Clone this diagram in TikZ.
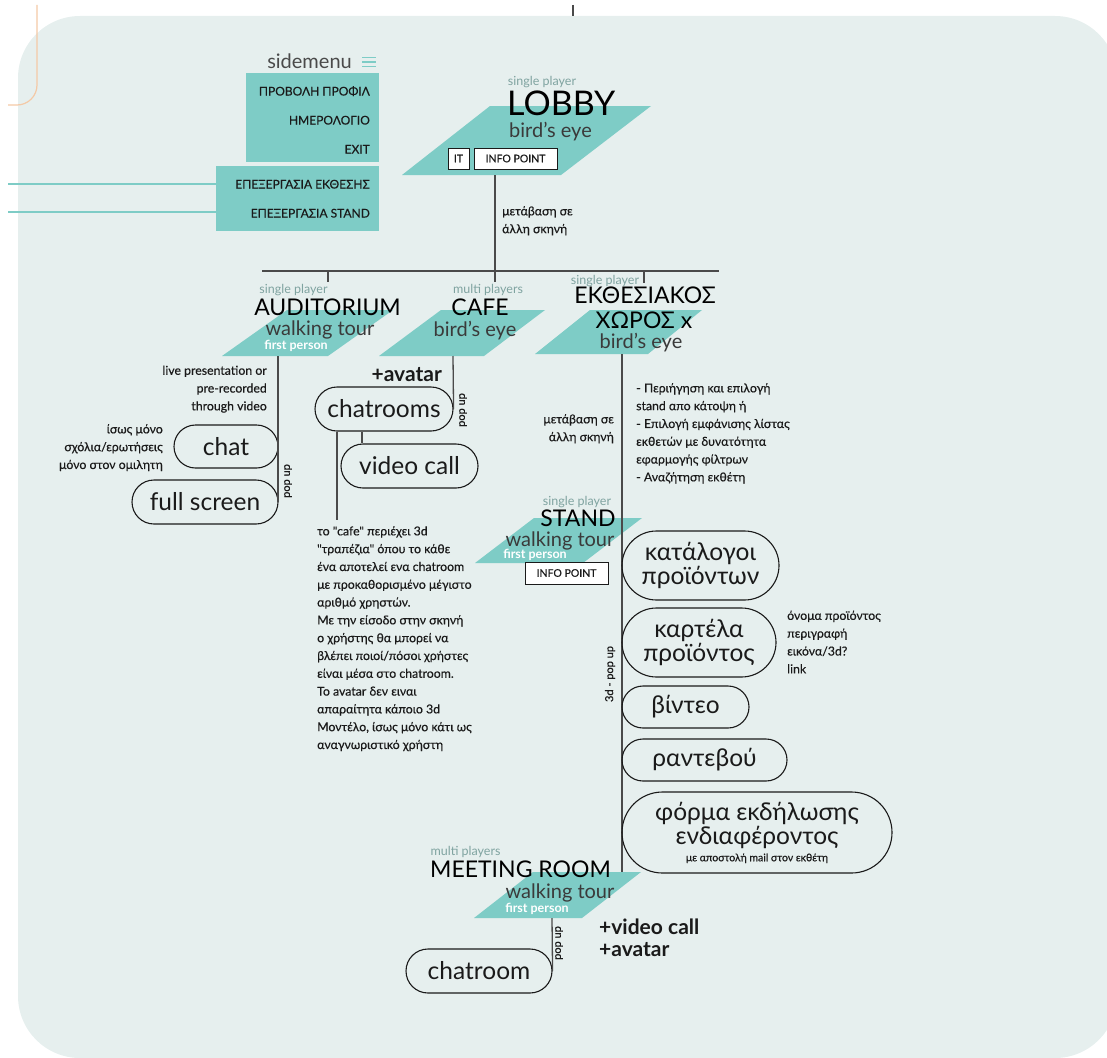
\documentclass[tikz,border=0pt]{standalone}
\usepackage{fontspec}
\setmainfont{Lato}
\newfontfamily\medf{Lato}[FakeBold=0.35]
\usetikzlibrary{calc}
\definecolor{bgc}{HTML}{E6EFEE}
\definecolor{tealc}{HTML}{7ECCC6}
\definecolor{linec}{HTML}{4A4A4A}
\definecolor{subc}{HTML}{7FA3A0}
\definecolor{orangec}{HTML}{F4C9A6}
\definecolor{darkc}{HTML}{1A1A1A}
\definecolor{modec}{HTML}{3A3A3A}
\begin{document}
\begin{tikzpicture}[x=1pt,y=-1pt,
  txt/.style={inner sep=0pt, text=darkc, font=\medf\fontsize{12.3}{17.8}\selectfont},
  sub/.style={inner sep=0pt, text=subc, font=\fontsize{12.5}{14}\selectfont, anchor=base},
  ttl/.style={inner sep=0pt, text=black, font=\fontsize{23}{25}\selectfont, anchor=base},
  mode/.style={inner sep=0pt, text=modec, font=\fontsize{20}{22}\selectfont, anchor=base},
  fp/.style={inner sep=0pt, text=white, font=\bfseries\fontsize{12.5}{14}\selectfont, anchor=base},
  menu/.style={inner sep=0pt, text=darkc, font=\medf\fontsize{12}{14}\selectfont, anchor=base east},
  ibox/.style={draw=darkc, fill=white, line width=0.9pt, inner sep=0pt, font=\medf\fontsize{10.5}{12}\selectfont, text=darkc},
  rot/.style={inner sep=0pt, rotate=90, text=darkc, font=\medf\fontsize{11}{12}\selectfont},
  plus/.style={inner sep=0pt, text=darkc, font=\bfseries\fontsize{21}{23}\selectfont},
  pill/.style={draw=darkc, line width=1.1pt, inner sep=0pt, text=darkc, align=center, font=\fontsize{24.5}{24}\selectfont},
  conn/.style={draw=linec, line width=1.3pt},
  plate/.style={fill=tealc},
  menubox/.style={fill=tealc, inner sep=0pt}
]
\useasboundingbox (0,0) rectangle (1107,1057);
\begin{scope}
  \clip (0,0) rectangle (1107,1057);
  \fill[bgc, rounded corners=62pt] (18,16) rectangle (1117,1058);
\end{scope}

% orange and top marks
\draw[orangec, line width=1.2pt, rounded corners=20pt] (37,5) -- (37,105) -- (8,105);
\coordinate (topA) at (573,5);
\coordinate (topB) at (573,16);
\draw[linec, line width=1.2pt] (topA) -- (topB);

% sidemenu
\node[inner sep=0pt, text=linec, font=\fontsize{20}{22}\selectfont, anchor=base east] (sm) at (352,68) {sidemenu};
\foreach \yy in {57.5,62,66.5}{\draw[tealc, line width=1.6pt] (362,\yy) -- (376,\yy);}
\node[menubox, minimum width=133pt, minimum height=89pt] (menuA) at (312.5,117.5) {};
\node[menubox, minimum width=163pt, minimum height=65pt] (menuB) at (297.5,198.5) {};
\node[menu] (m1) at (370,95.5) {ΠΡΟΒΟΛΗ ΠΡΟΦΙΛ};
\node[menu] (m2) at (370,124.5) {ΗΜΕΡΟΛΟΓΙΟ};
\node[menu] (m3) at (370,153.5) {EXIT};
\node[menu] (m4) at (370,188.5) {ΕΠΕΞΕΡΓΑΣΙΑ ΕΚΘΕΣΗΣ};
\node[menu] (m5) at (370,217.5) {ΕΠΕΞΕΡΓΑΣΙΑ STAND};
\coordinate (ed1) at (8,184);
\coordinate (ed2) at (8,212);
\draw[tealc, line width=1.2pt] (ed1) -- (ed1 -| menuB.west);
\draw[tealc, line width=1.2pt] (ed2) -- (ed2 -| menuB.west);

% plates
\fill[plate] (490,106) -- (651,106) -- (561,175) -- (402,175) -- cycle;
\fill[plate] (287,310) -- (393,310) -- (328,356) -- (222,356) -- cycle;
\fill[plate] (441,310) -- (545,310) -- (484,356) -- (379,356) -- cycle;
\fill[plate] (590,310) -- (702,310) -- (648,354) -- (535,354) -- cycle;
\fill[plate] (534,518) -- (642,518) -- (583,563) -- (475,563) -- cycle;
\fill[plate] (533,872) -- (641,872) -- (582,918) -- (474,918) -- cycle;

% connectors (hub)
\coordinate (lobbyB) at (495,175);
\coordinate (hubC) at (495,282);
\coordinate (hubL) at (262,271);
\coordinate (hubR) at (719,271);
\coordinate (tAudA) at (328,271);
\coordinate (tAudB) at (328,282);
\coordinate (tEkA) at (644,271);
\coordinate (tEkB) at (644,283);
\draw[conn] (lobbyB) -- (hubC);
\draw[conn] (hubL) -- (hubR);
\draw[conn] (tAudA) -- (tAudB);
\draw[conn] (tEkA) -- (tEkB);

% LOBBY
\node[sub] (lobbySub) at (542,85.5) {single player};
\node[ttl, font=\fontsize{34}{36}\selectfont, anchor=base west] (lobbyT) at (507,115.5) {LOBBY};
\node[mode, anchor=base west] (lobbyM) at (509,137) {bird’s eye};
\node[ibox, minimum width=21pt, minimum height=21pt] (it) at (458.5,158.5) {IT};
\node[ibox, minimum width=83pt, minimum height=21pt] (info1) at (515.5,158.5) {INFO POINT};
\node[txt, anchor=north west, align=left] (lobbyGo) at (502,206) {μετάβαση σε\\άλλη σκηνή};

% AUDITORIUM
\node[sub] (audSub) at (293.5,293) {single player};
\node[ttl] (audT) at (327.5,315) {AUDITORIUM};
\node[mode] (audM) at (320,335) {walking tour};
\node[fp] (audF) at (296,349) {first person};
\coordinate (audB) at (278,356);
\node[txt, anchor=north east, align=right] (live) at (267,365.5) {live presentation or\\pre-recorded\\through video};
\node[txt, anchor=north east, align=right] (isos) at (163,424) {ίσως μόνο\\σχόλια/ερωτήσεις\\μόνο στον ομιλητη};
\node[pill, minimum width=104pt, minimum height=43pt, rounded corners=21.5pt] (chat) at (226,446.5) {chat};
\node[pill, minimum width=146pt, minimum height=44pt, rounded corners=22pt] (full) at (205,502) {full screen};
\draw[conn] (audB) -- (audB |- full.east);
\node[rot] (pop1) at (288,481) {pop up};

% CAFE
\node[sub] (cafeSub) at (488,293) {multi players};
\node[ttl] (cafeT) at (480,315) {CAFE};
\node[mode] (cafeM) at (475,336) {bird’s eye};
\coordinate (cafeB) at (453,356);
\node[plus, anchor=base east] (av1) at (442,381) {+avatar};
\node[pill, minimum width=138pt, minimum height=44pt, rounded corners=22pt] (chatrooms) at (384,409) {chatrooms};
\node[pill, minimum width=137pt, minimum height=44pt, rounded corners=22pt] (video) at (409.5,466) {video call};
\draw[conn] (cafeB) -- (chatrooms.east);
\node[rot] (pop2) at (463,410) {pop up};
\coordinate (cvx) at (362,0);
\draw[conn] (chatrooms.south -| cvx) -- (video.north -| cvx);
\coordinate (ctx) at (337,0);
\coordinate (cafeTxtTop) at (337,520);
\draw[conn] (chatrooms.south -| ctx) -- (cafeTxtTop);
\node[txt, anchor=north west, align=left] (cafetext) at (317,526) {το "cafe" περιέχει 3d\\"τραπέζια" όπου το κάθε\\ένα αποτελεί ενα chatroom\\με προκαθορισμένο μέγιστο\\αριθμό χρηστών.\\Με την είσοδο στην σκηνή\\ο χρήστης θα μπορεί να\\βλέπει ποιοί/πόσοι χρήστες\\είναι μέσα στο chatroom.\\Το avatar δεν ειναι\\απαραίτητα κάποιο 3d\\Μοντέλο, ίσως μόνο κάτι ως\\αναγνωριστικό χρήστη};

% EKTHESIAKOS
\node[sub] (ekSub) at (605,284) {single player};
\node[ttl] (ekT1) at (645,303) {ΕΚΘΕΣΙΑΚΟΣ};
\node[ttl] (ekT2) at (644,328) {ΧΩΡΟΣ x};
\node[mode] (ekM) at (641,348) {bird’s eye};
\coordinate (ekB) at (622,354);
\coordinate (meetTop) at (622,872);
\draw[conn] (ekB) -- (meetTop);
\node[txt, anchor=north west, align=left] (ekText) at (636,383) {- Περιήγηση και επιλογή\\stand απο κάτοψη ή\\- Επιλογή εμφάνισης λίστας\\εκθετών με δυνατότητα\\εφαρμογής φίλτρων\\- Αναζήτηση εκθέτη};
\node[txt, anchor=north east, align=right] (ekGo) at (614,414) {μετάβαση σε\\άλλη σκηνή};

% STAND
\node[sub] (stSub) at (577,505) {single player};
\node[ttl] (stT) at (578,526) {STAND};
\node[mode] (stM) at (560,546) {walking tour};
\node[fp] (stF) at (535,558) {first person};
\node[ibox, minimum width=83pt, minimum height=22pt] (info2) at (566.5,573) {INFO POINT};
\node[rot] (pop3) at (610,674) {3d - pop up};

\node[pill, minimum width=157pt, minimum height=69pt, rounded corners=34.5pt] (kat) at (700.5,565.5) {κατάλογοι\\προϊόντων};
\node[pill, minimum width=154pt, minimum height=69pt, rounded corners=34.5pt] (kart) at (699,642.5) {καρτέλα\\προϊόντος};
\node[txt, anchor=north west, align=left] (kartText) at (787,610.5) {όνομα προϊόντος\\περιγραφή\\εικόνα/3d?\\link};
\node[pill, minimum width=127pt, minimum height=42pt, rounded corners=21pt] (vid) at (685.5,707) {βίντεο};
\node[pill, minimum width=165pt, minimum height=42pt, rounded corners=21pt] (rant) at (704.5,760) {ραντεβού};
\node[pill, minimum width=270pt, minimum height=81pt, rounded corners=40.5pt] (forma) at (757,832.5) {φόρμα εκδήλωσης\\ενδιαφέροντος\\[-7pt]{\medf\fontsize{10.5}{12}\selectfont με αποστολή mail στον εκθέτη}};

% MEETING ROOM
\node[sub] (mtSub) at (465.5,855) {multi players};
\node[ttl] (mtT) at (520.5,877) {MEETING ROOM};
\node[mode] (mtM) at (560,898) {walking tour};
\node[fp] (mtF) at (537,912) {first person};
\coordinate (mtB) at (552,918);
\node[pill, minimum width=146pt, minimum height=44pt, rounded corners=22pt] (chatroom) at (479,971) {chatroom};
\draw[conn] (mtB) -- (chatroom.east);
\node[rot] (pop4) at (559,943) {pop up};
\node[plus, anchor=base west] (vc) at (599,934) {+video call};
\node[plus, anchor=base west] (av2) at (599,956) {+avatar};
\end{tikzpicture}
\end{document}
